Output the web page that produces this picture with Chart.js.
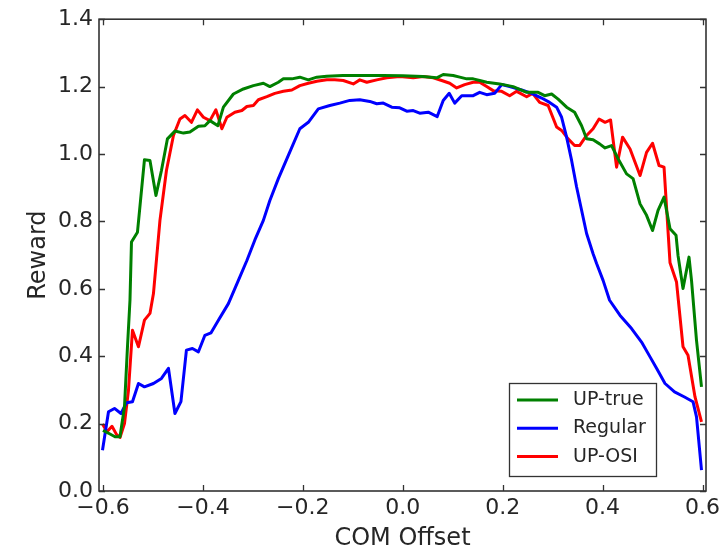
<!DOCTYPE html>
<html>
<head>
<meta charset="utf-8">
<script src="https://cdn.jsdelivr.net/npm/chart.js@4.4.1/dist/chart.umd.min.js"></script>
<style>
  html, body { margin: 0; padding: 0; background: #ffffff; }
  #wrap { width: 725px; height: 551px; }
</style>
</head>
<body>
<div id="wrap"><canvas id="c" width="725" height="551"></canvas></div>
<script>
// ---------- data ----------
const seriesNames = ["UP-true", "Regular", "UP-OSI"];

const upTrueX = [-0.600,-0.586,-0.576,-0.566,-0.557,-0.551,-0.546,-0.543,-0.531,-0.517,-0.506,-0.494,-0.483,-0.471,-0.456,-0.439,-0.426,-0.409,-0.396,-0.386,-0.370,-0.359,-0.339,-0.319,-0.299,-0.279,-0.266,-0.249,-0.239,-0.222,-0.206,-0.189,-0.172,-0.152,-0.120,-0.080,-0.040,0.000,0.040,0.068,0.081,0.101,0.114,0.128,0.141,0.154,0.168,0.194,0.221,0.248,0.271,0.284,0.298,0.311,0.328,0.344,0.358,0.368,0.381,0.394,0.405,0.418,0.431,0.448,0.461,0.475,0.488,0.500,0.511,0.523,0.535,0.547,0.551,0.561,0.573,0.578,0.588,0.598];
const upTrueY = [0.180,0.169,0.161,0.161,0.250,0.428,0.566,0.739,0.768,0.983,0.981,0.877,0.951,1.045,1.068,1.062,1.065,1.082,1.084,1.099,1.084,1.139,1.178,1.193,1.203,1.210,1.200,1.213,1.223,1.223,1.228,1.220,1.228,1.231,1.233,1.233,1.233,1.232,1.230,1.226,1.236,1.233,1.228,1.223,1.223,1.218,1.213,1.208,1.200,1.183,1.183,1.173,1.178,1.163,1.139,1.124,1.084,1.045,1.042,1.030,1.018,1.025,0.986,0.941,0.927,0.852,0.818,0.773,0.833,0.872,0.778,0.759,0.699,0.601,0.694,0.625,0.447,0.309];

const regularX = [-0.601,-0.589,-0.577,-0.564,-0.553,-0.541,-0.529,-0.517,-0.499,-0.483,-0.469,-0.456,-0.444,-0.433,-0.421,-0.409,-0.396,-0.384,-0.369,-0.349,-0.329,-0.312,-0.296,-0.279,-0.266,-0.249,-0.229,-0.206,-0.189,-0.169,-0.146,-0.126,-0.106,-0.086,-0.066,-0.052,-0.039,-0.022,-0.006,0.008,0.021,0.034,0.051,0.069,0.081,0.093,0.104,0.118,0.141,0.154,0.168,0.184,0.198,0.214,0.238,0.258,0.278,0.294,0.308,0.318,0.328,0.338,0.348,0.358,0.368,0.381,0.388,0.401,0.414,0.435,0.458,0.478,0.495,0.508,0.525,0.544,0.564,0.581,0.588,0.598];
const regularY = [0.121,0.235,0.245,0.230,0.262,0.265,0.319,0.309,0.319,0.334,0.364,0.230,0.265,0.418,0.423,0.413,0.462,0.469,0.507,0.556,0.625,0.684,0.745,0.803,0.862,0.927,0.996,1.075,1.094,1.134,1.144,1.151,1.159,1.161,1.156,1.149,1.151,1.139,1.137,1.127,1.129,1.121,1.124,1.111,1.159,1.180,1.151,1.173,1.173,1.183,1.176,1.180,1.206,1.200,1.190,1.180,1.166,1.153,1.139,1.109,1.050,0.981,0.902,0.833,0.764,0.704,0.675,0.625,0.566,0.521,0.482,0.442,0.398,0.364,0.319,0.294,0.279,0.265,0.220,0.062];

const upOsiX = [-0.601,-0.592,-0.582,-0.573,-0.566,-0.557,-0.549,-0.541,-0.529,-0.517,-0.506,-0.499,-0.486,-0.473,-0.459,-0.446,-0.436,-0.423,-0.411,-0.399,-0.386,-0.374,-0.362,-0.352,-0.336,-0.322,-0.312,-0.299,-0.289,-0.272,-0.256,-0.239,-0.222,-0.206,-0.189,-0.172,-0.152,-0.136,-0.119,-0.099,-0.086,-0.072,-0.052,-0.032,-0.006,0.021,0.041,0.061,0.078,0.094,0.108,0.124,0.141,0.154,0.168,0.181,0.198,0.214,0.228,0.248,0.260,0.274,0.291,0.308,0.318,0.331,0.344,0.354,0.368,0.381,0.393,0.405,0.416,0.428,0.440,0.455,0.475,0.488,0.500,0.513,0.523,0.535,0.548,0.561,0.571,0.585,0.598];
const upOsiY = [0.199,0.176,0.192,0.168,0.159,0.200,0.299,0.477,0.428,0.507,0.527,0.586,0.803,0.951,1.055,1.104,1.114,1.094,1.131,1.109,1.099,1.131,1.075,1.109,1.124,1.129,1.141,1.144,1.161,1.170,1.180,1.186,1.190,1.203,1.210,1.216,1.220,1.220,1.218,1.208,1.220,1.213,1.220,1.226,1.230,1.226,1.230,1.226,1.218,1.210,1.196,1.206,1.213,1.213,1.200,1.188,1.186,1.173,1.186,1.170,1.180,1.153,1.144,1.080,1.070,1.045,1.025,1.025,1.055,1.075,1.104,1.094,1.101,0.961,1.050,1.015,0.936,1.005,1.032,0.966,0.961,0.677,0.620,0.428,0.403,0.279,0.205];

const xTickValues = [-0.6,-0.4,-0.2,0.0,0.2,0.4,0.6];
const xTickLabels = ["\u22120.6","\u22120.4","\u22120.2","0.0","0.2","0.4","0.6"];
const yTickValues = [0.0,0.2,0.4,0.6,0.8,1.0,1.2,1.4];
const yTickLabels = ["0.0","0.2","0.4","0.6","0.8","1.0","1.2","1.4"];

const xTitle = "COM Offset";
const yTitle = "Reward";
// --------------------------

const colors = ["#008000", "#0000ff", "#ff0000"];
const FONT = "'DejaVu Sans', 'Bitstream Vera Sans', sans-serif";
const TEXT = "#262626";

function pts(xs, ys) { return xs.map((x, i) => ({x: x, y: ys[i]})); }

const frameAndTicks = {
  id: 'frameAndTicks',
  afterDatasetsDraw(chart) {
    const {ctx, chartArea: a, scales} = chart;
    ctx.save();
    ctx.strokeStyle = '#333333';
    ctx.lineWidth = 1.3;
    const L = 6;
    ctx.beginPath();
    xTickValues.forEach(v => {
      const px = Math.round(scales.x.getPixelForValue(v)) + 0.5;
      ctx.moveTo(px, a.bottom); ctx.lineTo(px, a.bottom - L);
      ctx.moveTo(px, a.top); ctx.lineTo(px, a.top + L);
    });
    yTickValues.forEach(v => {
      const py = Math.round(scales.y.getPixelForValue(v)) + 0.5;
      ctx.moveTo(a.left, py); ctx.lineTo(a.left + L, py);
      ctx.moveTo(a.right, py); ctx.lineTo(a.right - L, py);
    });
    ctx.stroke();
    ctx.lineWidth = 1.6;
    ctx.strokeStyle = '#333333';
    ctx.strokeRect(a.left, a.top, a.right - a.left, a.bottom - a.top);
    ctx.restore();
  },
  afterDraw(chart) {
    const {ctx, chartArea: a} = chart;
    const bx = a.right - 197, by = a.bottom - 108, bw = 147, bh = 93;
    ctx.save();
    ctx.fillStyle = '#ffffff';
    ctx.fillRect(bx, by, bw, bh);
    ctx.strokeStyle = '#333333';
    ctx.lineWidth = 1.3;
    ctx.strokeRect(bx + 0.5, by + 0.5, bw, bh);
    ctx.font = "19px " + FONT;
    ctx.textBaseline = 'middle';
    ctx.textAlign = 'left';
    chart.data.datasets.forEach((ds, i) => {
      const cy = by + 17 + i * 28.3;
      ctx.strokeStyle = ds.borderColor;
      ctx.lineWidth = 3;
      ctx.beginPath();
      ctx.moveTo(bx + 8, cy); ctx.lineTo(bx + 49, cy);
      ctx.stroke();
      ctx.fillStyle = TEXT;
      ctx.fillText(ds.label, bx + 64, cy);
    });
    ctx.restore();
  }
};

new Chart(document.getElementById('c'), {
  type: 'line',
  data: {
    datasets: [
      {label: seriesNames[0], data: pts(upTrueX, upTrueY), borderColor: colors[0]},
      {label: seriesNames[1], data: pts(regularX, regularY), borderColor: colors[1]},
      {label: seriesNames[2], data: pts(upOsiX, upOsiY), borderColor: colors[2]}
    ].map(d => Object.assign(d, {borderWidth: 3, pointRadius: 0, tension: 0, fill: false, borderJoinStyle: 'round'}))
  },
  options: {
    responsive: false,
    animation: false,
    devicePixelRatio: 1,
    layout: {padding: {top: 18, right: 19, left: 0, bottom: 0}},
    plugins: {legend: {display: false}, tooltip: {enabled: false}},
    scales: {
      x: {
        type: 'linear', min: -0.608, max: 0.607,
        afterBuildTicks: s => { s.ticks = xTickValues.map(v => ({value: v})); },
        afterFit: s => { s.height = 60; },
        grid: {display: false, drawTicks: false, tickLength: 0},
        border: {display: false},
        ticks: {
          autoSkip: false, maxRotation: 0, padding: 4, color: TEXT,
          font: {family: FONT, size: 22},
          callback: (v, i) => xTickLabels[i]
        },
        title: {display: true, text: xTitle, color: TEXT, font: {family: FONT, size: 24, lineHeight: 1.0}, padding: {top: 0, bottom: 0}}
      },
      y: {
        type: 'linear', min: 0, max: 1.4,
        afterBuildTicks: s => { s.ticks = yTickValues.map(v => ({value: v})); },
        afterFit: s => { s.width = 99; },
        grid: {display: false, drawTicks: false, tickLength: 0},
        border: {display: false},
        ticks: {
          autoSkip: false, padding: 6, color: TEXT,
          font: {family: FONT, size: 22},
          callback: (v, i) => yTickLabels[i]
        },
        title: {display: true, text: yTitle, color: TEXT, font: {family: FONT, size: 24}, padding: {top: 24, bottom: 0}}
      }
    }
  },
  plugins: [frameAndTicks]
});
</script>
</body>
</html>
